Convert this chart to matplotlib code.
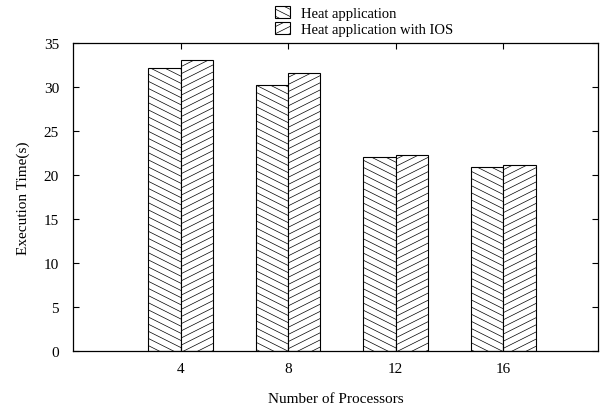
import matplotlib.pyplot as plt
import numpy as np
from matplotlib import hatch as mhatch
from matplotlib.path import Path

plt.rcParams['font.family'] = ['Liberation Serif', 'DejaVu Serif']
plt.rcParams['hatch.linewidth'] = 0.5

processors = ["4", "8", "12", "16"]
heat = [32.2, 30.2, 22.1, 20.9]
heat_ios = [33.1, 31.6, 22.3, 21.1]


# gnuplot-like shallow hatching (slope 1/2) instead of the 45 degree default
class _Shallow(mhatch.HatchPatternBase):
    char = "/"
    sign = 1

    def __init__(self, hatch, density):
        self.n = int(hatch.count(self.char) * 3.5)
        self.num_lines = int(self.n * 1.5) + 1 if self.n else 0
        self.num_vertices = self.num_lines * 2

    def set_vertices_and_codes(self, vertices, codes):
        c = np.arange(self.num_lines) / self.n - 0.5
        if self.sign > 0:
            y0, y1 = c, c + 0.5
        else:
            y0, y1 = c + 0.5, c
        vertices[0::2, 0] = 0.0
        vertices[0::2, 1] = y0
        vertices[1::2, 0] = 1.0
        vertices[1::2, 1] = y1
        codes[0::2] = Path.MOVETO
        codes[1::2] = Path.LINETO


class ShallowUp(_Shallow):
    char = "/"
    sign = 1


class ShallowDown(_Shallow):
    char = "\\"
    sign = -1


mhatch._hatch_types[:] = [t for t in mhatch._hatch_types
                          if t not in (mhatch.NorthEastHatch, mhatch.SouthEastHatch)]
mhatch._hatch_types += [ShallowUp, ShallowDown]

fig = plt.figure(figsize=(6.12, 4.10), dpi=100)
ax = fig.add_axes([73 / 612, 1 - 352 / 410, 525 / 612, 308 / 410])

x = np.arange(len(processors))
w = 0.3
ax.bar(x - w / 2, heat, w, color="white", edgecolor="black", linewidth=0.8,
       hatch="\\\\\\\\", label="Heat application")
ax.bar(x + w / 2, heat_ios, w, color="white", edgecolor="black", linewidth=0.8,
       hatch="////", label="Heat application with IOS")

ax.set_xlim(-1, 3.88)
ax.set_ylim(0, 35)
ax.set_xticks(x)
ax.set_xticklabels(processors)
ax.set_yticks(range(0, 36, 5))
ax.tick_params(direction="in", length=4.3, width=0.8, labelsize=11,
               top=True, right=True)
ax.tick_params(axis="x", pad=8)
ax.tick_params(axis="y", pad=10)
for s in ax.spines.values():
    s.set_linewidth(0.9)

ax.set_xlabel("Number of Processors", fontsize=11, labelpad=12)
ax.set_ylabel("Execution Time(s)", fontsize=11, labelpad=10)

fig.legend(loc="upper left", bbox_to_anchor=(275 / 612, 1 - 7 / 410),
           frameon=False, fontsize=10.5, handlelength=1.05, handleheight=0.9,
           handletextpad=0.75, labelspacing=0.15, borderpad=0, borderaxespad=0)

plt.savefig("out.png")
plt.close()
